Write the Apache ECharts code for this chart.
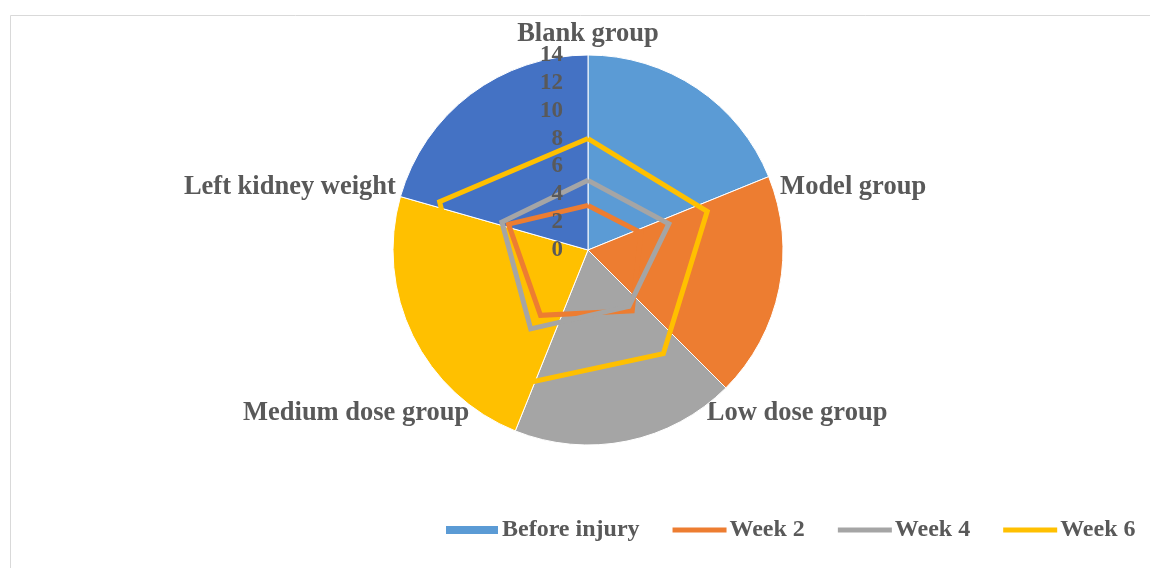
<!DOCTYPE html>
<html>
<head>
<meta charset="utf-8">
<script src="https://cdn.jsdelivr.net/npm/echarts@6/dist/echarts.min.js"></script>
<style>
  html, body { margin: 0; padding: 0; background: #fff; }
  #chart { width: 1150px; height: 568px; }
</style>
</head>
<body>
<div id="chart"></div>
<script>
// categories (radar axes / pie slices), clockwise from the top
const groups = ['Blank group', 'Model group', 'Low dose group', 'Medium dose group', 'Left kidney weight']
// pie: before injury
const beforeInjury = [67.9, 67.1, 66.9, 84.0, 74.1]
// radar lines
const week2 = [3.2, 4.0, 5.4, 5.8, 6.0]
const week4 = [5.0, 6.1, 5.0, 7.0, 6.5]
const week6 = [8.0, 9.0, 9.2, 12.6, 11.2]
const axisMax = 14
const axisStep = 2

const sliceColors = ['#5B9BD5', '#ED7D31', '#A5A5A5', '#FFC000', '#4472C4']
const FONT = '"Liberation Serif", "Times New Roman", serif'
const TEXT = '#595959'
const CX = 588, CY = 250, R = 195
const lineIcon = 'path://M0,0L55,0L55,5L0,5Z'

// echarts radar runs counter-clockwise, the reference runs clockwise
const cw = arr => [arr[0]].concat(arr.slice(1).reverse())

const chart = echarts.init(document.getElementById('chart'))

const radarSeries = (name, values, color) => ({
  type: 'radar',
  name: name,
  z: 5,
  symbol: 'none',
  lineStyle: { color: color, width: 5, join: 'miter' },
  itemStyle: { color: color },
  data: [{ name: name, value: cw(values) }]
})

chart.setOption({
  animation: false,
  textStyle: { fontFamily: FONT },
  graphic: [{
    type: 'rect',
    shape: { x: 10.5, y: 15.5, width: 1160, height: 580 },
    style: { fill: 'none', stroke: '#D9D9D9', lineWidth: 1 },
    silent: true
  }],
  legend: {
    bottom: 21,
    left: 439,
    itemGap: 33,
    itemWidth: 54,
    itemHeight: 10,
    symbolKeepAspect: true,
    textStyle: { color: TEXT, fontSize: 24, fontWeight: 'bold', fontFamily: FONT, padding: [0, 0, 0, -2] },
    data: [
      { name: 'Before injury', icon: 'rect', itemStyle: { color: sliceColors[0] } },
      { name: 'Week 2', icon: lineIcon },
      { name: 'Week 4', icon: lineIcon },
      { name: 'Week 6', icon: lineIcon }
    ]
  },
  grid: { left: CX, top: CY - R, width: 1, height: R },
  xAxis: { type: 'value', show: false },
  yAxis: {
    type: 'value',
    min: 0,
    max: axisMax,
    interval: axisStep,
    z: 10,
    axisLine: { show: false },
    axisTick: { show: false },
    splitLine: { show: false },
    axisLabel: { margin: 25, color: TEXT, fontSize: 23, fontWeight: 'bold', fontFamily: FONT }
  },
  radar: {
    center: [CX, CY],
    radius: R,
    startAngle: 90,
    splitNumber: 7,
    nameGap: 7,
    axisName: { color: TEXT, fontSize: 26.5, fontWeight: 'bold', fontFamily: FONT },
    axisLine: { show: false },
    axisTick: { show: false },
    splitLine: { show: false },
    splitArea: { show: false },
    indicator: cw(groups).map(g => ({ name: g, min: 0, max: axisMax }))
  },
  series: [
    {
      type: 'pie',
      name: 'Before injury',
      center: [CX, CY],
      radius: R,
      startAngle: 90,
      clockwise: true,
      z: 1,
      label: { show: false },
      labelLine: { show: false },
      emphasis: { disabled: true },
      itemStyle: { borderColor: '#fff', borderWidth: 1 },
      data: groups.map((g, i) => ({ name: g, value: beforeInjury[i], itemStyle: { color: sliceColors[i] } }))
    },
    radarSeries('Week 2', week2, '#ED7D31'),
    radarSeries('Week 4', week4, '#A5A5A5'),
    radarSeries('Week 6', week6, '#FFC000')
  ]
})
</script>
</body>
</html>
